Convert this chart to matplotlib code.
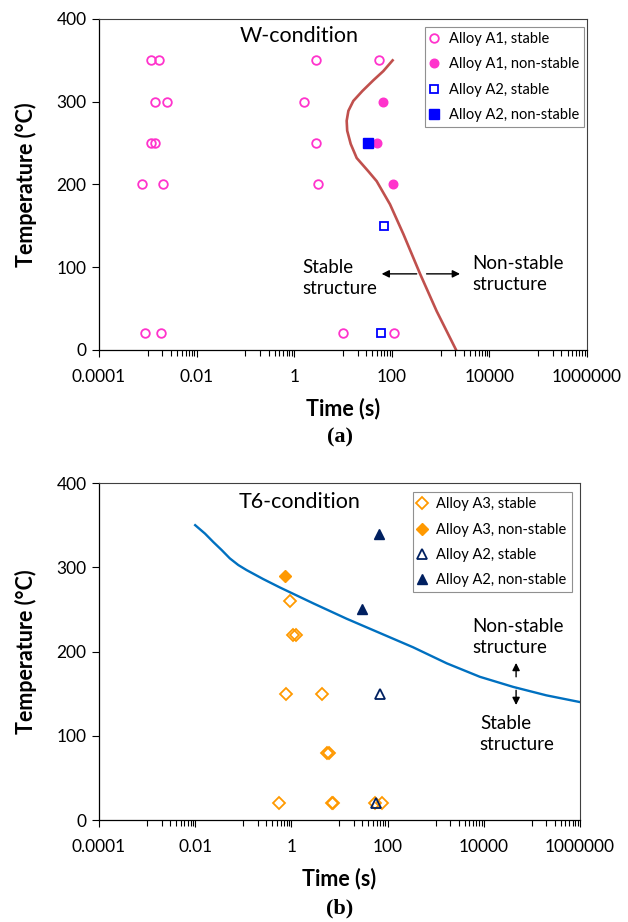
import numpy as np
import matplotlib
matplotlib.use("Agg")
import matplotlib.pyplot as plt
from matplotlib.ticker import FixedLocator, NullFormatter

plt.rcParams['font.family'] = ['Lato', 'DejaVu Sans']

# ---- (a) W-condition data ----
a1_stable_t = [0.00117, 0.0017, 2.8, 54, 0.0014, 0.0025, 1.6, 0.00117, 0.0014, 2.8,
               0.00076, 0.0021, 3.1, 0.00087, 0.0019, 9.8, 113]
a1_stable_T = [350, 350, 350, 350, 300, 300, 300, 250, 250, 250,
               200, 200, 200, 20, 20, 20, 20]
a1_nonstable_t = [65, 50, 104]
a1_nonstable_T = [300, 250, 200]
a2w_stable_t = [70, 60]
a2w_stable_T = [150, 20]
a2w_nonstable_t = [32]
a2w_nonstable_T = [250]
w_curve_t = [104, 67, 42, 25, 16.3, 12.9, 11.9, 12.2, 14.4, 19.1, 33, 49, 92, 173, 380, 830, 2080]
w_curve_T = [350, 337, 326, 313, 301, 289, 277, 265, 249, 232, 216, 204, 176, 140, 92, 47, 0]

# ---- (b) T6-condition data ----
a3_stable_t = [0.92, 1.1, 1.25, 0.76, 4.4, 5.5, 6.0, 0.56, 6.9, 7.5, 55, 76]
a3_stable_T = [260, 220, 220, 150, 150, 80, 80, 20, 20, 20, 20, 20]
a3_nonstable_t = [0.74]
a3_nonstable_T = [290]
a2t_stable_t = [68, 57]
a2t_stable_T = [150, 20]
a2t_nonstable_t = [67, 30]
a2t_nonstable_T = [340, 250]
t6_curve_t = [0.01, 0.016, 0.0238, 0.0355, 0.0525, 0.0787, 0.117, 0.26, 0.58, 2.9, 14, 69,
              341, 1700, 8300, 41000, 2e5, 1e6]
t6_curve_T = [350, 340, 330, 320.5, 310.6, 302.7, 296.7, 286, 276, 257, 239, 222,
              205, 186, 170, 158, 148, 140]

x_ticks = [1e-4, 1e-2, 1, 1e2, 1e4, 1e6]
x_labels = ['0.0001', '0.01', '1', '100', '10000', '1000000']
y_ticks = [0, 100, 200, 300, 400]

pink = '#FF33CC'
blue = '#0000FF'
orange = '#FF9900'
navy = '#002060'


def style_axes(ax):
    ax.set_xscale('log')
    ax.set_xlim(1e-4, 1e6)
    ax.set_ylim(0, 400)
    ax.xaxis.set_major_locator(FixedLocator(x_ticks))
    ax.set_xticklabels(x_labels)
    minor = [10.0 ** e * m for e in (-3, -1, 1, 3, 5) for m in range(1, 10)]
    ax.xaxis.set_minor_locator(FixedLocator(minor))
    ax.xaxis.set_minor_formatter(NullFormatter())
    ax.set_yticks(y_ticks)
    ax.tick_params(axis='both', which='major', direction='out', length=5,
                   width=0.8, labelsize=12.5, pad=4)
    ax.tick_params(axis='x', which='minor', direction='out', length=4, width=0.8)
    ax.tick_params(axis='x', which='major', pad=9)
    for s in ('top', 'right'):
        ax.spines[s].set_color('#404040')
        ax.spines[s].set_linewidth(0.8)
    for s in ('left', 'bottom'):
        ax.spines[s].set_linewidth(0.9)
    ax.set_xlabel('Time (s)', fontsize=15.5, fontweight='bold', labelpad=9)
    ax.set_ylabel('Temperature (°C)', fontsize=15.5, fontweight='bold', labelpad=14)


def add_legend(ax, anchor):
    leg = ax.legend(loc='upper right', bbox_to_anchor=anchor, fontsize=10.5,
                    frameon=True, fancybox=False, framealpha=1, edgecolor='#909090',
                    borderpad=0.35, handlelength=0.5, handletextpad=0.75,
                    labelspacing=0.78, borderaxespad=0)
    leg.get_frame().set_linewidth(0.8)


fig = plt.figure(figsize=(6.28, 9.22), dpi=100)

# ---- top panel ----
ax1 = fig.add_axes([0.1576, 0.6204, 0.7771, 0.3590])
ax1.plot(w_curve_t, w_curve_T, color='#C0504D', lw=1.9, zorder=2)
ax1.plot(a1_stable_t, a1_stable_T, 'o', ms=6.2, mfc='none', mec=pink, mew=1.3,
         ls='none', label='Alloy A1, stable', zorder=3)
ax1.plot(a1_nonstable_t, a1_nonstable_T, 'o', ms=6.2, color=pink,
         ls='none', label='Alloy A1, non-stable', zorder=3)
ax1.plot(a2w_stable_t, a2w_stable_T, 's', ms=5.6, mfc='none', mec=blue, mew=1.3,
         ls='none', label='Alloy A2, stable', zorder=3)
ax1.plot(a2w_nonstable_t, a2w_nonstable_T, 's', ms=6.8, color=blue,
         ls='none', label='Alloy A2, non-stable', zorder=3)
style_axes(ax1)
add_legend(ax1, (0.994, 0.976))
ax1.text(1.26, 379, 'W-condition', fontsize=15.5, ha='center', va='center')
ax1.text(1.45, 87, 'Stable\nstructure', fontsize=13.5, ha='left', va='center',
         linespacing=1.25)
ax1.text(4400, 92, 'Non-stable\nstructure', fontsize=13.5, ha='left', va='center',
         linespacing=1.25)
arrow = dict(arrowstyle='-|>', color='black', lw=1.0, mutation_scale=11,
             shrinkA=0, shrinkB=0)
ax1.annotate('', xy=(62, 92), xytext=(324, 92), arrowprops=arrow)
ax1.annotate('', xy=(2500, 92), xytext=(516, 92), arrowprops=arrow)

# ---- bottom panel ----
ax2 = fig.add_axes([0.1576, 0.1106, 0.7659, 0.3655])
ax2.plot(t6_curve_t, t6_curve_T, color='#0070C0', lw=1.7, zorder=2)
ax2.plot(a3_stable_t, a3_stable_T, 'D', ms=6.5, mfc='none', mec=orange, mew=1.3,
         ls='none', label='Alloy A3, stable', zorder=3)
ax2.plot(a3_nonstable_t, a3_nonstable_T, 'D', ms=6.5, color=orange,
         ls='none', label='Alloy A3, non-stable', zorder=3)
ax2.plot(a2t_stable_t, a2t_stable_T, '^', ms=6.5, mfc='none', mec=navy, mew=1.3,
         ls='none', label='Alloy A2, stable', zorder=3)
ax2.plot(a2t_nonstable_t, a2t_nonstable_T, '^', ms=6.5, color=navy,
         ls='none', label='Alloy A2, non-stable', zorder=3)
style_axes(ax2)
add_legend(ax2, (0.983, 0.973))
ax2.text(1.5, 377, 'T6-condition', fontsize=15.5, ha='center', va='center')
ax2.text(5700, 217, 'Non-stable\nstructure', fontsize=13.5, ha='left', va='center',
         linespacing=1.25)
ax2.text(8300, 102, 'Stable\nstructure', fontsize=13.5, ha='left', va='center',
         linespacing=1.25)
ax2.annotate('', xy=(47000, 186.5), xytext=(47000, 170), arrowprops=arrow)
ax2.annotate('', xy=(47000, 136.5), xytext=(47000, 154), arrowprops=arrow)

# panel letters
fig.text(0.541, 1 - 437 / 922, '(a)', fontsize=16, fontweight='bold',
         family='Liberation Serif', ha='center', va='center')
fig.text(0.541, 1 - 908 / 922, '(b)', fontsize=16, fontweight='bold',
         family='Liberation Serif', ha='center', va='center')

fig.savefig('out.png', dpi=100)
